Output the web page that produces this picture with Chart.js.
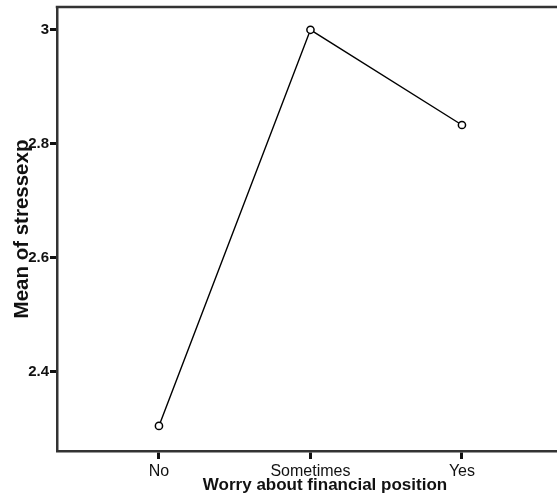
<!DOCTYPE html>
<html>
<head>
<meta charset="utf-8">
<script src="https://cdn.jsdelivr.net/npm/chart.js@4"></script>
<style>
html,body{margin:0;padding:0;background:#fff;overflow:hidden;width:557px;height:502px;}
#wrap{width:557px;height:502px;overflow:hidden;position:relative;}
canvas{display:block;}
</style>
</head>
<body>
<div id="wrap"><canvas id="c" width="593" height="502" style="width:593px;height:502px;"></canvas></div>
<script>
const categories = ['No', 'Sometimes', 'Yes'];
const means = [2.305, 3.0, 2.833];
const yTicks = [2.4, 2.6, 2.8, 3.0];
const xTitle = 'Worry about financial position';
const yTitle = 'Mean of stressexp';

const points = categories.map((c, i) => ({x: i, y: means[i]}));

const topBorder = {
  id: 'topBorder',
  afterDraw(chart) {
    const {ctx, chartArea} = chart;
    ctx.save();
    ctx.strokeStyle = '#333';
    ctx.lineWidth = 2.5;
    ctx.beginPath();
    ctx.moveTo(chartArea.left - 1.25, chartArea.top);
    ctx.lineTo(chartArea.right + 2, chartArea.top);
    ctx.stroke();
    ctx.restore();
  }
};

function noPad(scale) {
  scale.paddingTop = 0;
  scale.paddingBottom = 0;
  scale.paddingLeft = 0;
  scale.paddingRight = 0;
}

new Chart(document.getElementById('c'), {
  type: 'line',
  data: {
    datasets: [{
      data: points,
      borderColor: '#000',
      borderWidth: 1.4,
      pointRadius: 3.6,
      pointBorderWidth: 1.5,
      pointBackgroundColor: '#fff',
      pointBorderColor: '#000',
      tension: 0,
      fill: false
    }]
  },
  options: {
    responsive: false,
    maintainAspectRatio: false,
    animation: false,
    devicePixelRatio: 1,
    layout: {autoPadding: false, padding: {top: 7, left: 0, right: 0, bottom: 0}},
    plugins: {legend: {display: false}, tooltip: {enabled: false}},
    scales: {
      x: {
        type: 'linear',
        min: -0.673,
        max: 2.865,
        afterBuildTicks(scale) { scale.ticks = categories.map((c, i) => ({value: i})); },
        afterFit(scale) { scale.height = 51; noPad(scale); },
        ticks: {
          callback: (v) => categories[v],
          color: '#111',
          font: {family: 'Liberation Sans, Arial, sans-serif', size: 16},
          padding: 3,
          autoSkip: false,
          maxRotation: 0
        },
        grid: {drawOnChartArea: false, drawTicks: true, tickLength: 8, tickColor: '#111', tickWidth: 3},
        border: {display: true, color: '#333', width: 2.5},
        title: {
          display: true,
          text: xTitle,
          color: '#111',
          font: {family: 'Liberation Sans, Arial, sans-serif', size: 17, weight: 'bold'},
          padding: {top: 0, bottom: 6}
        }
      },
      y: {
        type: 'linear',
        min: 2.261,
        max: 3.04,
        afterBuildTicks(scale) { scale.ticks = yTicks.map(v => ({value: v})); },
        afterFit(scale) { scale.width = 57; noPad(scale); },
        ticks: {
          callback: (v) => String(v),
          color: '#111',
          font: {family: 'Liberation Sans Narrow, Liberation Sans, Arial, sans-serif', size: 15, weight: 'bold'},
          padding: 1
        },
        grid: {drawOnChartArea: false, drawTicks: true, tickLength: 7, tickColor: '#111', tickWidth: 3},
        border: {display: true, color: '#333', width: 2.5},
        title: {
          display: true,
          text: yTitle,
          color: '#111',
          font: {family: 'Liberation Sans, Arial, sans-serif', size: 20.5, weight: 'bold'},
          padding: {top: 10, bottom: 0}
        }
      }
    }
  },
  plugins: [topBorder]
});
</script>
</body>
</html>
